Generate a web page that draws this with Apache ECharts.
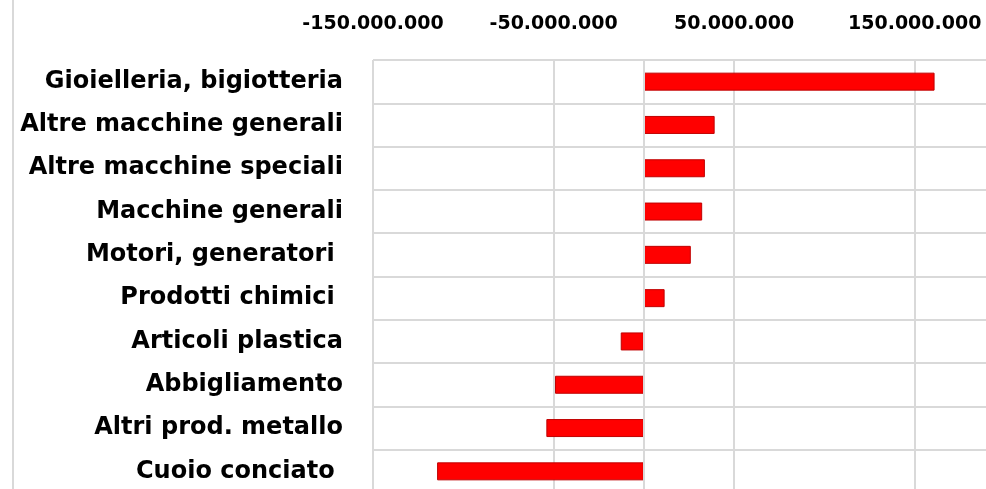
<!DOCTYPE html>
<html>
<head>
<meta charset="utf-8">
<script src="https://cdn.jsdelivr.net/npm/echarts@6/dist/echarts.min.js"></script>
<style>html,body{margin:0;padding:0;background:#fff}#c{width:986px;height:489px}</style>
</head>
<body>
<div id="c"></div>
<script>
const categories = [
  "Gioielleria, bigiotteria",
  "Altre macchine generali",
  "Altre macchine speciali",
  "Macchine generali",
  "Motori, generatori ",
  "Prodotti chimici ",
  "Articoli plastica",
  "Abbigliamento",
  "Altri prod. metallo",
  "Cuoio conciato "
];
const values = [161000000, 39200000, 33800000, 32300000, 26000000, 11500000, -12800000, -49200000, -54000000, -114500000];
const axisMin = -150000000;
const axisMax = 200000000;
const axisStep = 100000000;

function fmt(v) {
  const s = Math.abs(Math.round(v)).toString().replace(/\B(?=(\d{3})+(?!\d))/g, '.');
  return (v < 0 ? '-' : '') + s;
}

const chart = echarts.init(document.getElementById('c'));
chart.setOption({
  animation: false,
  backgroundColor: '#fff',
  graphic: [{
    type: 'line', shape: { x1: 13, y1: 0, x2: 13, y2: 489 },
    style: { stroke: '#d9d9d9', lineWidth: 2 }
  }],
  grid: { left: 373, right: -19, top: 60, bottom: -4, containLabel: false, outerBoundsMode: 'none' },
  xAxis: {
    type: 'value', position: 'top',
    min: axisMin, max: axisMax, interval: axisStep,
    axisLine: { show: false }, axisTick: { show: false },
    splitLine: { show: true, lineStyle: { color: '#d9d9d9', width: 2 } },
    axisLabel: {
      formatter: fmt, color: '#000', fontFamily: 'DejaVu Sans', fontWeight: 'bold', fontSize: 19, margin: 26
    }
  },
  yAxis: {
    type: 'category', data: categories, inverse: true,
    axisLine: { show: false, onZero: false }, axisTick: { show: false },
    splitLine: { show: true, lineStyle: { color: '#d9d9d9', width: 2 } },
    axisLabel: {
      color: '#000', fontFamily: 'DejaVu Sans', fontWeight: 'bold', fontSize: 24, margin: 30,
      padding: [5, 0, 0, 0]
    }
  },
  series: [{
    type: 'bar', data: values, barWidth: 18,
    itemStyle: { color: '#ff0000', borderColor: '#c00000', borderWidth: 1 },
    markLine: {
      silent: true, symbol: 'none', label: { show: false },
      lineStyle: { color: '#d9d9d9', width: 2, type: 'solid' },
      data: [{ xAxis: 0 }]
    }
  }]
});
</script>
</body>
</html>
